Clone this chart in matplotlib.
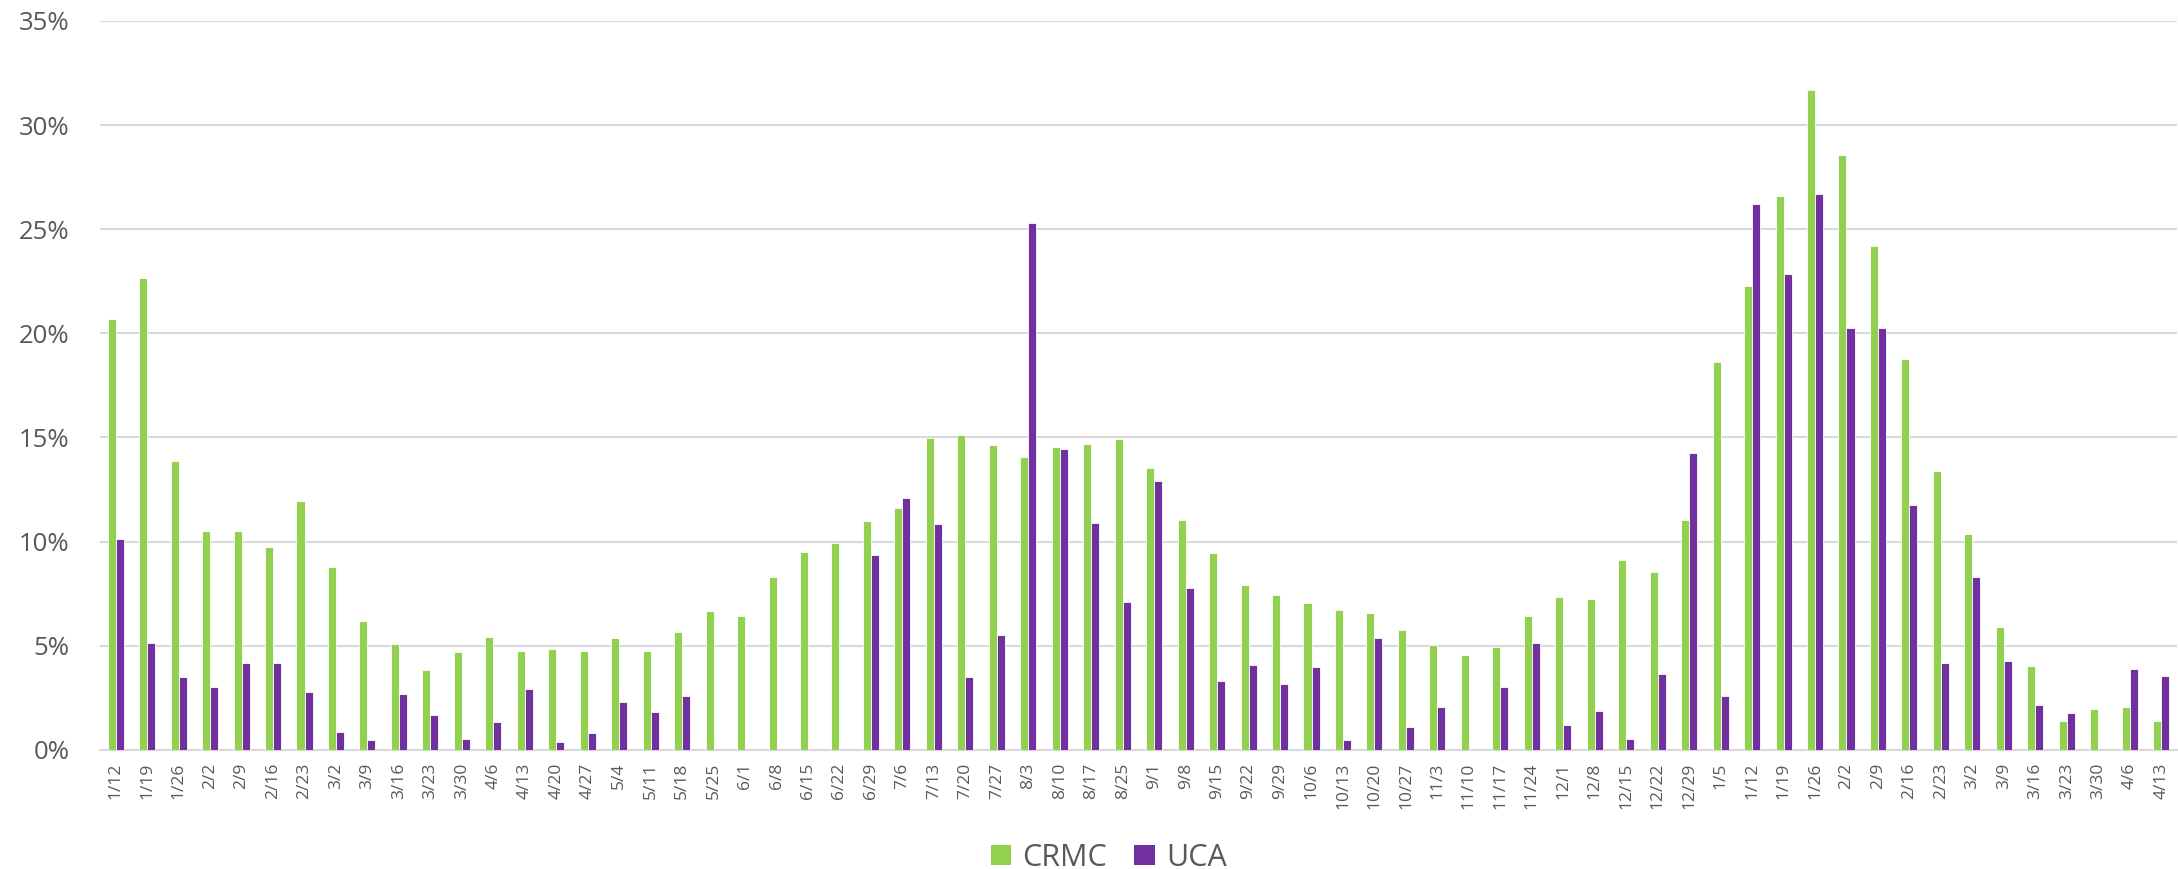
import numpy as np
import matplotlib.pyplot as plt
from matplotlib.ticker import MultipleLocator, FuncFormatter

plt.rcParams['font.family'] = ['Open Sans', 'DejaVu Sans']

weeks = ['1/12', '1/19', '1/26', '2/2', '2/9', '2/16', '2/23', '3/2', '3/9', '3/16',
         '3/23', '3/30', '4/6', '4/13', '4/20', '4/27', '5/4', '5/11', '5/18', '5/25',
         '6/1', '6/8', '6/15', '6/22', '6/29', '7/6', '7/13', '7/20', '7/27', '8/3',
         '8/10', '8/17', '8/25', '9/1', '9/8', '9/15', '9/22', '9/29', '10/6', '10/13',
         '10/20', '10/27', '11/3', '11/10', '11/17', '11/24', '12/1', '12/8', '12/15', '12/22',
         '12/29', '1/5', '1/12', '1/19', '1/26', '2/2', '2/9', '2/16', '2/23', '3/2',
         '3/9', '3/16', '3/23', '3/30', '4/6', '4/13']

crmc = [20.7, 22.65, 13.87, 10.49, 10.49, 9.74, 11.93, 8.77, 6.21, 5.10,
        3.82, 4.70, 5.44, 4.75, 4.85, 4.75, 5.37, 4.75, 5.66, 6.65,
        6.41, 8.30, 9.50, 9.92, 11.00, 11.61, 14.97, 15.11, 14.64, 14.07,
        14.54, 14.67, 14.92, 13.52, 11.02, 9.45, 7.90, 7.42, 7.07, 6.72,
        6.57, 5.74, 5.05, 4.57, 4.96, 6.43, 7.34, 7.25, 9.12, 8.56,
        11.02, 18.60, 22.25, 26.57, 31.69, 28.58, 24.17, 18.78, 13.37, 10.35,
        5.90, 4.03, 1.38, 1.95, 2.05, 1.39]

uca = [10.14, 5.12, 3.49, 3.02, 4.16, 4.16, 2.77, 0.86, 0.46, 2.69,
       1.66, 0.53, 1.33, 2.94, 0.38, 0.80, 2.29, 1.81, 2.59, 0,
       0, 0, 0, 0, 9.36, 12.09, 10.84, 3.49, 5.53, 25.30,
       14.44, 10.88, 7.09, 12.91, 7.79, 3.33, 4.10, 3.15, 4.00, 0.48,
       5.36, 1.12, 2.08, 0, 3.02, 5.15, 1.18, 1.87, 0.51, 3.63,
       14.25, 2.61, 26.20, 22.87, 26.68, 20.27, 20.27, 11.76, 4.16, 8.29,
       4.27, 2.16, 1.76, 0, 3.87, 3.54]

green = '#92D050'
purple = '#7030A0'
grey = '#595959'

x = np.arange(len(weeks))
w = 0.255

fig = plt.figure(figsize=(21.78, 8.69), dpi=100)
ax = fig.add_axes([0.0459, 0.137, 0.9536, 0.839])

ax.bar(x - w / 2, crmc, w, color=green, edgecolor='white', linewidth=0.6, label='CRMC', zorder=3)
ax.bar(x + w / 2, uca, w, color=purple, edgecolor='white', linewidth=0.6, label='UCA', zorder=3)

ax.set_xlim(-0.5, len(weeks) - 0.5)
ax.set_ylim(0, 35)
ax.yaxis.set_major_locator(MultipleLocator(5))
ax.yaxis.set_major_formatter(FuncFormatter(lambda v, p: f'{v:.0f}%'))
ax.grid(axis='y', color='#D9D9D9', linewidth=1.5, zorder=0)
ax.set_axisbelow(True)

for s in ['top', 'right', 'left']:
    ax.spines[s].set_visible(False)
ax.spines['bottom'].set_color('#D9D9D9')
ax.spines['bottom'].set_linewidth(1.5)

ax.set_xticks(x)
ax.set_xticklabels(weeks, rotation=90, fontsize=12.5, color=grey)
ax.tick_params(axis='x', length=0, pad=9)
ax.tick_params(axis='y', length=0, pad=22, labelsize=18.5, labelcolor=grey)

leg = fig.legend(loc='lower center', bbox_to_anchor=(0.509, -0.036), ncol=2, frameon=False,
                 fontsize=22, handlelength=0.66, handleheight=0.66, handletextpad=0.37,
                 columnspacing=0.9, labelcolor=grey)
for h in leg.legend_handles:
    h.set_edgecolor('none')

fig.savefig('out.png', dpi=100)
